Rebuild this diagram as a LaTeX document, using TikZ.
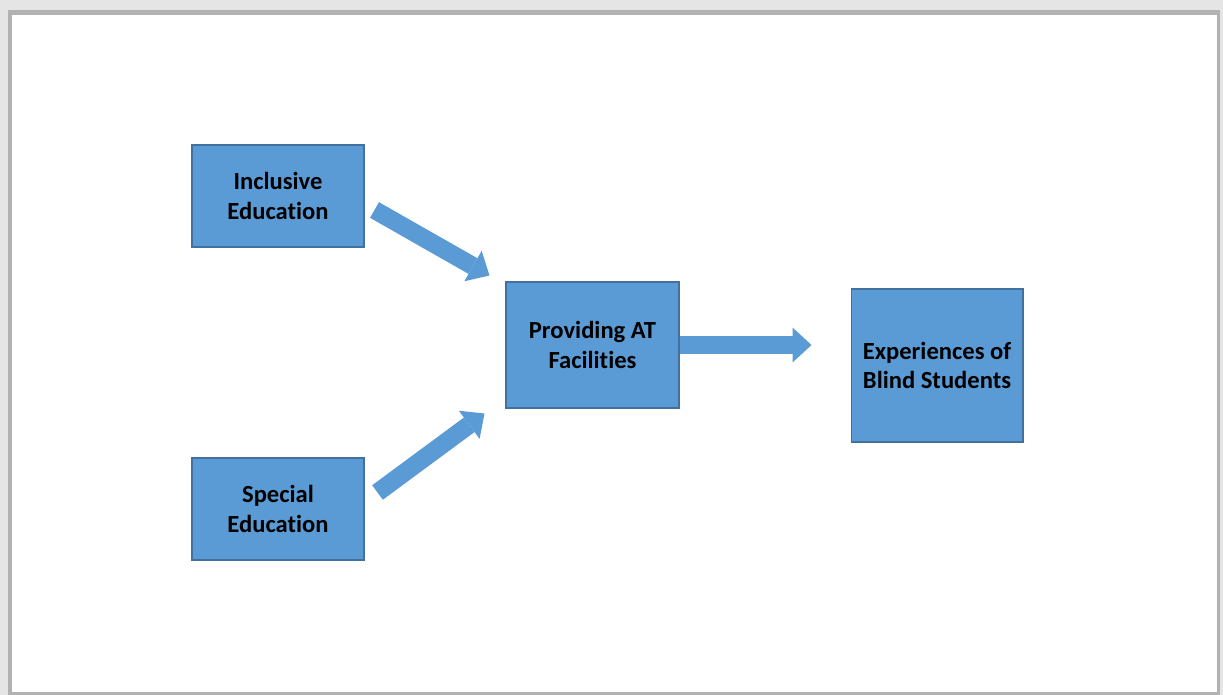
\documentclass[tikz,border=0pt]{standalone}
\usepackage{fontspec}
\setmainfont{Carlito}[Ligatures=NoCommon]
\usetikzlibrary{arrows.meta, positioning}
\definecolor{slideBlue}{RGB}{91, 155, 213}
\definecolor{slideEdge}{RGB}{65, 113, 156}

\begin{document}
\begin{tikzpicture}[
                x=0.02cm, y=-0.02cm,
                box/.style={rectangle, draw=slideEdge, line width=0.6pt, fill=slideBlue, minimum width=3.44cm, minimum height=2.04cm, inner sep=0pt, align=center, font=\fontsize{14}{17}\selectfont\bfseries},
                blockarrow/.style={draw=slideBlue, line width=0.36cm, -{Triangle[length=0.38cm, width=0.7cm, line width=0pt]}}
            ]
                \useasboundingbox (0,0) rectangle (1223,695);
                % slide frame
                \fill[black!10] (0,0) rectangle (1223,695);
                \fill[black!30] (8,10) rectangle (1220,695);
                \fill[white] (12,15) rectangle (1217,692);

                \node[box] (inclusive) at (278,196) {Inclusive\\Education};
                \node[box, below=4.2cm of inclusive] (special) {Special\\Education};
                \node[box, minimum width=3.46cm, minimum height=2.52cm] (providing) at (592.5,345) {Providing AT\\Facilities};
                \node[box, minimum height=3.06cm] (blind) at (937,365.5) {Experiences of\\Blind Students};

                \coordinate (incTail) at ([shift={(10,14)}]inclusive.east);
                \coordinate (incTip) at ([shift={(-16,-6)}]providing.north west);
                \coordinate (speTail) at ([shift={(13,-16.5)}]special.east);
                \coordinate (speTip) at ([shift={(-21,5)}]providing.south west);

                \draw[blockarrow] (incTail) -- (incTip);
                \draw[blockarrow] (speTail) -- (speTip);
                \draw[blockarrow, shorten >=0.78cm] (providing.east) -- (providing.east -| blind.west);
            \end{tikzpicture}
\end{document}
